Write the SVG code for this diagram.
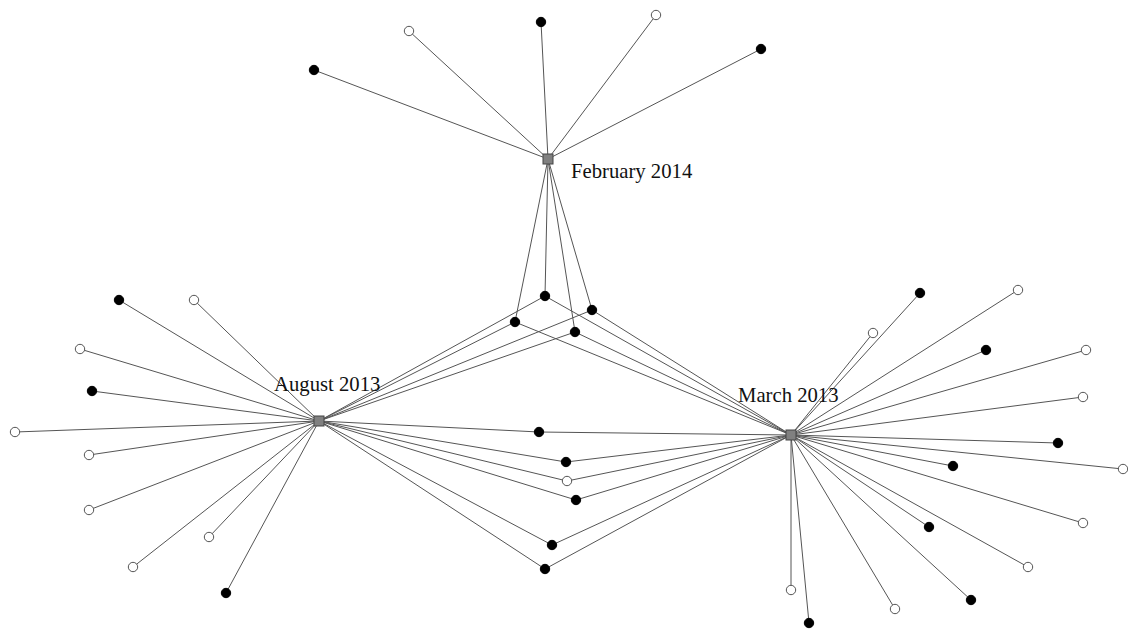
<svg xmlns="http://www.w3.org/2000/svg" width="1128" height="631" viewBox="0 0 1128 631">
<style>
.e{stroke:#555;stroke-width:1;fill:none}
.b{fill:#000;stroke:#000;stroke-width:1}
.w{fill:#fff;stroke:#555;stroke-width:1}
.h{fill:#808080;stroke:#444;stroke-width:1}
.t{font-family:"Liberation Serif","Times New Roman",serif;font-size:20.7px;fill:#111}
</style>
<rect width="1128" height="631" fill="#fff"/>
<g id="connectors">
<!-- February -->
<line class="e" x1="548" y1="159" x2="314" y2="70"/>
<line class="e" x1="548" y1="159" x2="409" y2="31"/>
<line class="e" x1="548" y1="159" x2="541" y2="22"/>
<line class="e" x1="548" y1="159" x2="656" y2="15"/>
<line class="e" x1="548" y1="159" x2="761" y2="49"/>
<line class="e" x1="548" y1="159" x2="545" y2="296"/>
<line class="e" x1="548" y1="159" x2="515" y2="322"/>
<line class="e" x1="548" y1="159" x2="592" y2="310"/>
<line class="e" x1="548" y1="159" x2="575" y2="332"/>
<!-- shared with August -->
<line class="e" x1="319" y1="421" x2="545" y2="296"/>
<line class="e" x1="319" y1="421" x2="515" y2="322"/>
<line class="e" x1="319" y1="421" x2="592" y2="310"/>
<line class="e" x1="319" y1="421" x2="575" y2="332"/>
<line class="e" x1="319" y1="421" x2="539" y2="432"/>
<line class="e" x1="319" y1="421" x2="566" y2="462"/>
<line class="e" x1="319" y1="421" x2="567" y2="481"/>
<line class="e" x1="319" y1="421" x2="576" y2="500"/>
<line class="e" x1="319" y1="421" x2="552" y2="545"/>
<line class="e" x1="319" y1="421" x2="545" y2="569"/>
<!-- shared with March -->
<line class="e" x1="791" y1="435" x2="545" y2="296"/>
<line class="e" x1="791" y1="435" x2="515" y2="322"/>
<line class="e" x1="791" y1="435" x2="592" y2="310"/>
<line class="e" x1="791" y1="435" x2="575" y2="332"/>
<line class="e" x1="791" y1="435" x2="539" y2="432"/>
<line class="e" x1="791" y1="435" x2="566" y2="462"/>
<line class="e" x1="791" y1="435" x2="567" y2="481"/>
<line class="e" x1="791" y1="435" x2="576" y2="500"/>
<line class="e" x1="791" y1="435" x2="552" y2="545"/>
<line class="e" x1="791" y1="435" x2="545" y2="569"/>
<!-- August leaves -->
<line class="e" x1="319" y1="421" x2="119" y2="300"/>
<line class="e" x1="319" y1="421" x2="194" y2="300"/>
<line class="e" x1="319" y1="421" x2="80" y2="349"/>
<line class="e" x1="319" y1="421" x2="92" y2="391"/>
<line class="e" x1="319" y1="421" x2="15" y2="432"/>
<line class="e" x1="319" y1="421" x2="89" y2="455"/>
<line class="e" x1="319" y1="421" x2="89" y2="510"/>
<line class="e" x1="319" y1="421" x2="209" y2="537"/>
<line class="e" x1="319" y1="421" x2="133" y2="567"/>
<line class="e" x1="319" y1="421" x2="226" y2="593"/>
<!-- March leaves -->
<line class="e" x1="791" y1="435" x2="920" y2="293"/>
<line class="e" x1="791" y1="435" x2="1018" y2="290"/>
<line class="e" x1="791" y1="435" x2="873" y2="333"/>
<line class="e" x1="791" y1="435" x2="986" y2="350"/>
<line class="e" x1="791" y1="435" x2="1086" y2="350"/>
<line class="e" x1="791" y1="435" x2="1083" y2="397"/>
<line class="e" x1="791" y1="435" x2="1058" y2="443"/>
<line class="e" x1="791" y1="435" x2="1123" y2="469"/>
<line class="e" x1="791" y1="435" x2="953" y2="466"/>
<line class="e" x1="791" y1="435" x2="1083" y2="523"/>
<line class="e" x1="791" y1="435" x2="929" y2="527"/>
<line class="e" x1="791" y1="435" x2="1028" y2="567"/>
<line class="e" x1="791" y1="435" x2="971" y2="600"/>
<line class="e" x1="791" y1="435" x2="895" y2="609"/>
<line class="e" x1="791" y1="435" x2="791" y2="590"/>
<line class="e" x1="791" y1="435" x2="809" y2="623"/>
</g>
<g id="feb-leaves">
<circle id="f1" class="b" cx="314" cy="70" r="4.7"/>
<circle id="f2" class="w" cx="409" cy="31" r="4.7"/>
<circle id="f3" class="b" cx="541" cy="22" r="4.7"/>
<circle id="f4" class="w" cx="656" cy="15" r="4.7"/>
<circle id="f5" class="b" cx="761" cy="49" r="4.7"/>
</g>
<g id="shared-nodes">
<circle id="s1" class="b" cx="545" cy="296" r="4.7"/>
<circle id="s2" class="b" cx="515" cy="322" r="4.7"/>
<circle id="s3" class="b" cx="592" cy="310" r="4.7"/>
<circle id="s4" class="b" cx="575" cy="332" r="4.7"/>
<circle id="s5" class="b" cx="539" cy="432" r="4.7"/>
<circle id="s6" class="b" cx="566" cy="462" r="4.7"/>
<circle id="s7" class="w" cx="567" cy="481" r="4.7"/>
<circle id="s8" class="b" cx="576" cy="500" r="4.7"/>
<circle id="s9" class="b" cx="552" cy="545" r="4.7"/>
<circle id="s10" class="b" cx="545" cy="569" r="4.7"/>
</g>
<g id="aug-leaves">
<circle id="a1" class="b" cx="119" cy="300" r="4.7"/>
<circle id="a2" class="w" cx="194" cy="300" r="4.7"/>
<circle id="a3" class="w" cx="80" cy="349" r="4.7"/>
<circle id="a4" class="b" cx="92" cy="391" r="4.7"/>
<circle id="a5" class="w" cx="15" cy="432" r="4.7"/>
<circle id="a6" class="w" cx="89" cy="455" r="4.7"/>
<circle id="a7" class="w" cx="89" cy="510" r="4.7"/>
<circle id="a8" class="w" cx="209" cy="537" r="4.7"/>
<circle id="a9" class="w" cx="133" cy="567" r="4.7"/>
<circle id="a10" class="b" cx="226" cy="593" r="4.7"/>
</g>
<g id="mar-leaves">
<circle id="m1" class="b" cx="920" cy="293" r="4.7"/>
<circle id="m2" class="w" cx="1018" cy="290" r="4.7"/>
<circle id="m3" class="w" cx="873" cy="333" r="4.7"/>
<circle id="m4" class="b" cx="986" cy="350" r="4.7"/>
<circle id="m5" class="w" cx="1086" cy="350" r="4.7"/>
<circle id="m6" class="w" cx="1083" cy="397" r="4.7"/>
<circle id="m7" class="b" cx="1058" cy="443" r="4.7"/>
<circle id="m8" class="w" cx="1123" cy="469" r="4.7"/>
<circle id="m9" class="b" cx="953" cy="466" r="4.7"/>
<circle id="m10" class="w" cx="1083" cy="523" r="4.7"/>
<circle id="m11" class="b" cx="929" cy="527" r="4.7"/>
<circle id="m12" class="w" cx="1028" cy="567" r="4.7"/>
<circle id="m13" class="b" cx="971" cy="600" r="4.7"/>
<circle id="m14" class="w" cx="895" cy="609" r="4.7"/>
<circle id="m15" class="w" cx="791" cy="590" r="4.7"/>
<circle id="m16" class="b" cx="809" cy="623" r="4.7"/>
</g>
<g id="feb2014">
<rect class="h" x="543" y="154" width="10" height="10"/>
<text class="t" x="571" y="178">February 2014</text>
</g>
<g id="aug2013">
<rect class="h" x="314" y="416" width="10" height="10"/>
<text class="t" x="274" y="391">August 2013</text>
</g>
<g id="mar2013">
<rect class="h" x="786" y="430" width="10" height="10"/>
<text class="t" x="738" y="402">March 2013</text>
</g>
</svg>
